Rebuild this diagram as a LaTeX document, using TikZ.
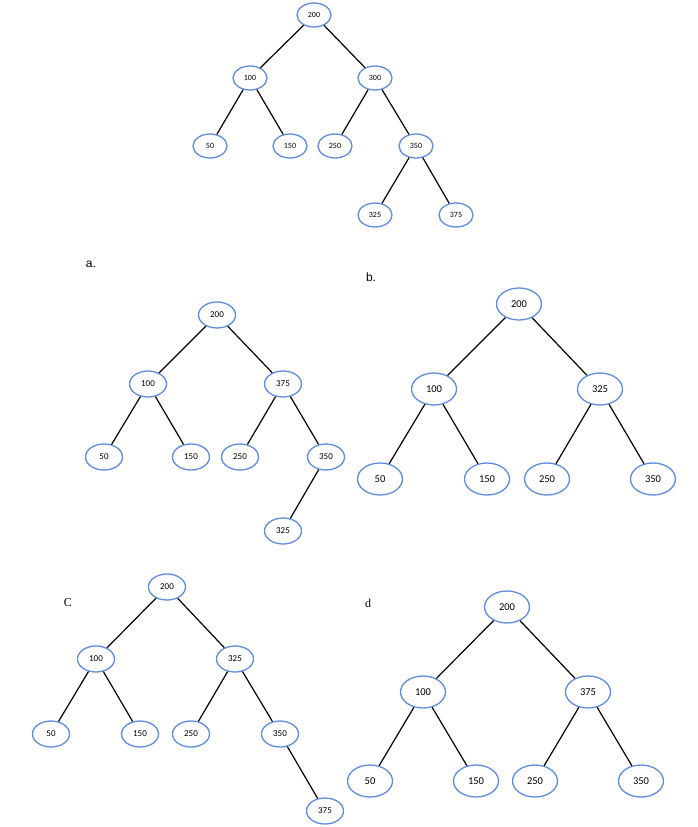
\documentclass[tikz,border=0pt]{standalone}
\usepackage{fontspec}
\setmainfont{Carlito}
\newfontfamily\armfont{Liberation Sans}
\newfontfamily\tmsfont{Liberation Serif}
\usetikzlibrary{shapes.geometric}
\definecolor{keyblue}{RGB}{95,140,220}
\tikzset{every picture/.style={line width=0.5pt}}
\tikzset{
  key/.style={ellipse, draw=keyblue, line width=1.3pt, fill=white, inner sep=0pt},
  keyS/.style={key, minimum width=34, minimum height=24, font=\fontsize{8}{9}\selectfont},
  keyM/.style={key, minimum width=37, minimum height=26, font=\fontsize{9}{10}\selectfont},
  keyL/.style={key, minimum width=45, minimum height=32, font=\fontsize{10.5}{12}\selectfont},
  link/.style={draw=black, line width=1.2pt},
  tag/.style={font=\fontsize{12}{14}\selectfont, inner sep=0pt}
}

\begin{document}
\begin{tikzpicture}[x=1pt,y=1pt,yscale=-1]
        \useasboundingbox (0,0) rectangle (698,827);

        %Tree: original
        \node [keyS] (t200) at (314,15) {200};
        \node [keyS] (t100) at (250,78) {100};
        \node [keyS] (t300) at (375,78) {300};
        \node [keyS] (t50) at (210,146) {50};
        \node [keyS] (t150) at (290,146) {150};
        \node [keyS] (t250) at (335,146) {250};
        \node [keyS] (t350) at (416,146) {350};
        \node [keyS] (t325) at (375,215) {325};
        \node [keyS] (t375) at (456,215) {375};
        \draw [link] (t200) -- (t100) (t200) -- (t300) (t100) -- (t50) (t100) -- (t150) (t300) -- (t250) (t300) -- (t350) (t350) -- (t325) (t350) -- (t375);

        %Tree: a.
        \node [tag, font=\armfont\fontsize{12}{14}\selectfont] (la) at (91,264) {a.};
        \node [keyM] (a200) at (217,315) {200};
        \node [keyM] (a100) at (148,384) {100};
        \node [keyM] (a375) at (283,384) {375};
        \node [keyM] (a50) at (104,457) {50};
        \node [keyM] (a150) at (191,457) {150};
        \node [keyM] (a250) at (240,457) {250};
        \node [keyM] (a350) at (326,457) {350};
        \node [keyM] (a325) at (283,531) {325};
        \draw [link] (a200) -- (a100) (a200) -- (a375) (a100) -- (a50) (a100) -- (a150) (a375) -- (a250) (a375) -- (a350) (a350) -- (a325);

        %Tree: b.
        \node [tag, font=\armfont\fontsize{12}{14}\selectfont] (lb) at (371,277) {b.};
        \node [keyL] (b200) at (519,304) {200};
        \node [keyL] (b100) at (434,389) {100};
        \node [keyL] (b325) at (600,389) {325};
        \node [keyL] (b50) at (380,479) {50};
        \node [keyL] (b150) at (487,479) {150};
        \node [keyL] (b250) at (547,479) {250};
        \node [keyL] (b350) at (653,479) {350};
        \draw [link] (b200) -- (b100) (b200) -- (b325) (b100) -- (b50) (b100) -- (b150) (b325) -- (b250) (b325) -- (b350);

        %Tree: C
        \node [tag, font=\tmsfont\fontsize{12}{14}\selectfont] (lc) at (68,603) {C};
        \node [keyM] (c200) at (167,587) {200};
        \node [keyM] (c100) at (96,659) {100};
        \node [keyM] (c325) at (235,659) {325};
        \node [keyM] (c50) at (51,734) {50};
        \node [keyM] (c150) at (140,734) {150};
        \node [keyM] (c250) at (191,734) {250};
        \node [keyM] (c350) at (280,734) {350};
        \node [keyM] (c375) at (325,811) {375};
        \draw [link] (c200) -- (c100) (c200) -- (c325) (c100) -- (c50) (c100) -- (c150) (c325) -- (c250) (c325) -- (c350) (c350) -- (c375);

        %Tree: d
        \node [tag, font=\tmsfont\fontsize{12}{14}\selectfont] (ld) at (368,603) {d};
        \node [keyL] (d200) at (507,607) {200};
        \node [keyL] (d100) at (423,692) {100};
        \node [keyL] (d375) at (588,692) {375};
        \node [keyL] (d50) at (370,781) {50};
        \node [keyL] (d150) at (476,781) {150};
        \node [keyL] (d250) at (535,781) {250};
        \node [keyL] (d350) at (641,781) {350};
        \draw [link] (d200) -- (d100) (d200) -- (d375) (d100) -- (d50) (d100) -- (d150) (d375) -- (d250) (d375) -- (d350);

\end{tikzpicture}
\end{document}
